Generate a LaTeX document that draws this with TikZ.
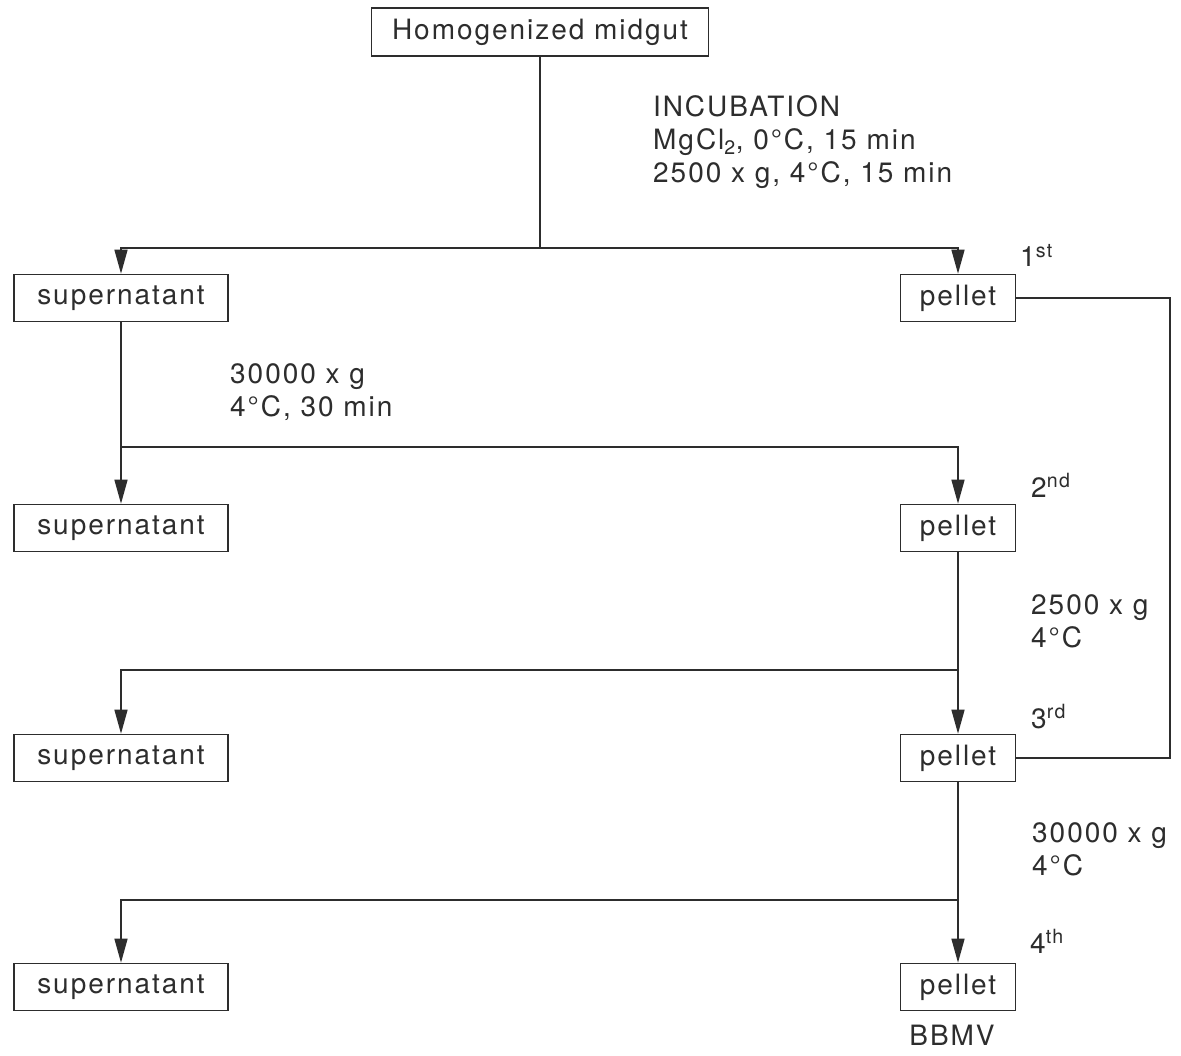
\documentclass[tikz,border=0pt]{standalone}
\usepackage{fontspec}
\setmainfont{TeX Gyre Heros}[LetterSpace=7]
\usepackage{tikz}
\usetikzlibrary{arrows.meta, positioning}
\definecolor{inkGray}{RGB}{45,45,45}

\begin{document}
\begin{tikzpicture}[x=1pt, y=-1pt,
    box/.style={rectangle, draw=inkGray, line width=1.6pt, inner sep=0pt, minimum height=47pt, text=inkGray, font=\fontsize{28}{33}\selectfont},
    supbox/.style={box, minimum width=214pt},
    pelbox/.style={box, minimum width=115pt},
    note/.style={inner sep=0pt, text=inkGray, align=left, font=\fontsize{28}{33}\selectfont},
    link/.style={draw=inkGray, line width=1.4pt},
    arrow/.style={link, -{Triangle[length=24pt, width=13pt]}}
]
    % Page
    \fill[white] (0, 0) rectangle (1181, 1056);
    \useasboundingbox (0, 0) rectangle (1181, 1056);

    % Start
    \node[box, minimum width=337pt, minimum height=48pt] (homog) at (540, 32) {Homogenized midgut};

    % Fractions
    \node[supbox] (sup1) at (121, 298) {supernatant};
    \node[pelbox] (pel1) at (958, 298) {pellet};
    \node[supbox] (sup2) at (121, 528) {supernatant};
    \node[pelbox] (pel2) at (958, 528) {pellet};
    \node[supbox] (sup3) at (121, 758) {supernatant};
    \node[pelbox] (pel3) at (958, 758) {pellet};
    \node[supbox] (sup4) at (121, 987) {supernatant};
    \node[pelbox] (pel4) at (958, 987) {pellet};

    % Branch points
    \coordinate (split1) at (540, 248);
    \coordinate (split2) at (121, 447);
    \coordinate (split3) at (958, 670);
    \coordinate (split4) at (958, 900);
    \coordinate (rail) at (1170, 0);

    % Conditions
    \node[note, anchor=north west] (incub) at (653, 95) {INCUBATION\\MgCl\textsubscript{2}, 0°C, 15 min\\2500 x g, 4°C, 15 min};
    \node[note, anchor=north west] (spin1) at (230, 363) {30000 x g\\4°C, 30 min};
    \node[note, anchor=north west] (spin2) at (1031, 594) {2500 x g\\4°C};
    \node[note, anchor=north west] (spin3) at (1032, 822) {30000 x g\\4°C};

    % Pellet order
    \node[note, anchor=base west] (ord1) at (1020, 267) {1\textsuperscript{st}};
    \node[note, anchor=base west] (ord2) at (1031, 497) {2\textsuperscript{nd}};
    \node[note, anchor=base west] (ord3) at (1031, 728) {3\textsuperscript{rd}};
    \node[note, anchor=base west] (ord4) at (1030, 953) {4\textsuperscript{th}};
    \node[note, anchor=base] (bbmv) at (952, 1045) {BBMV};

    % Connectors
    \draw[link] (homog) -- (split1);
    \draw[arrow] (split1) -| (sup1);
    \draw[arrow] (split1) -| (pel1);
    \draw[arrow] (sup1) -- (sup2);
    \draw[arrow] (split2) -| (pel2);
    \draw[arrow] (pel2) -- (pel3);
    \draw[arrow] (split3) -| (sup3);
    \draw[arrow] (pel3) -- (pel4);
    \draw[arrow] (split4) -| (sup4);

    % Back to 3rd pellet
    \draw[link] (pel1.east) -- (pel1.east -| rail) -- (pel3.east -| rail) -- (pel3.east);
\end{tikzpicture}
\end{document}
